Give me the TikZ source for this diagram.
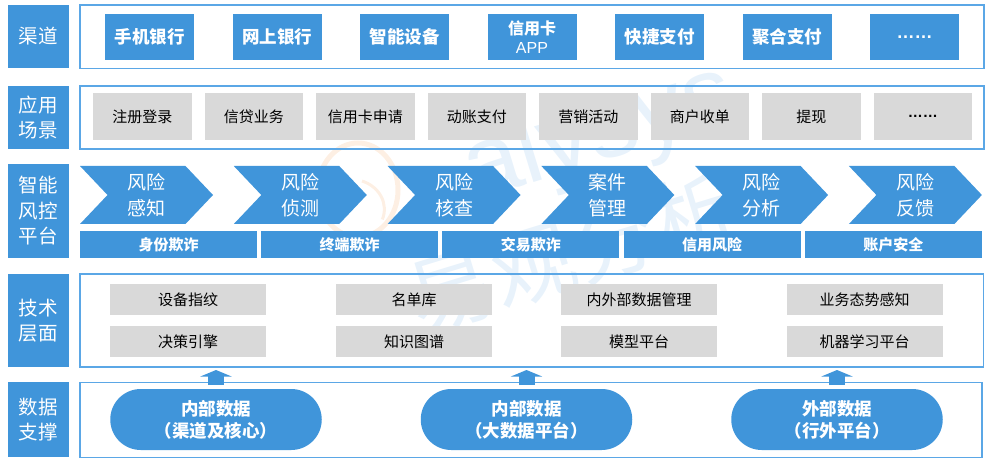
\documentclass[tikz,border=0pt]{standalone}
\usepackage{fontspec}
\usepackage{xcolor}
\usetikzlibrary{arrows.meta,positioning,shapes.symbols,shapes.misc}
\setmainfont{Noto Sans CJK SC}
\newfontfamily\latinfont{Liberation Sans}
\definecolor{mainblue}{HTML}{4095DA}
\definecolor{frameblue}{HTML}{5BA7E6}
\definecolor{cellgray}{HTML}{D9D9D9}
\definecolor{markblue}{HTML}{E8F2FB}
\definecolor{markorange}{HTML}{FDEFE3}

\begin{document}
\begin{tikzpicture}[x=1pt, y=-1pt,
  every node/.style={inner sep=0pt, outer sep=0pt, align=center},
  side/.style={fill=mainblue, text=white, minimum width=61pt, font=\fontsize{19.5}{25.5}\selectfont},
  frame/.style={draw=frameblue, line width=1.1pt},
  chan/.style={fill=mainblue, text=white, minimum width=89pt, minimum height=46pt, font=\fontsize{17.5}{19}\selectfont\bfseries},
  scene/.style={fill=cellgray, minimum width=98.5pt, minimum height=47pt, font=\fontsize{15}{18}\selectfont},
  stage/.style={signal, signal to=east, signal from=west, signal pointer angle=93, fill=mainblue, text=white, minimum width=133pt, minimum height=58pt, font=\fontsize{19}{26}\selectfont},
  risk/.style={fill=mainblue, text=white, minimum width=177pt, minimum height=27pt, font=\fontsize{15}{18}\selectfont\bfseries},
  tech/.style={fill=cellgray, minimum width=156pt, minimum height=31pt, font=\fontsize{15}{18}\selectfont},
  source/.style={rounded rectangle, fill=mainblue, text=white, minimum width=211.5pt, minimum height=61pt, font=\fontsize{17.5}{22}\selectfont\bfseries},
  uparr/.style={draw=mainblue, line width=16pt, -{Triangle[width=31pt,length=6.5pt]}, shorten <=4pt, shorten >=3pt}
]
\useasboundingbox (0,0) rectangle (988,462);

% watermark
\draw[markorange, line width=5pt] (358,190) ellipse (40 and 47);
\draw[markorange, line width=3pt] (362,181) arc (-70:20:34 and 30);
\node[rotate=17, text=markblue, font=\fontsize{100}{100}\selectfont\latinfont] (wmlatin) at (600,135) {alysys};
\node[rotate=17, text=markblue, font=\fontsize{85}{85}\selectfont] (wmcjk) at (573,252) {易观分析};

% left column
\node[side, minimum height=63pt, anchor=north west] (lchan) at (8,5) {渠道};
\node[side, minimum height=63pt, anchor=north west] (lscene) at (8,86) {应用\\场景};
\node[side, minimum height=94pt, anchor=north west] (lplat) at (8,164) {智能\\风控\\平台};
\node[side, minimum height=93pt, anchor=north west] (ltech) at (8,274) {技术\\层面};
\node[side, minimum height=75pt, anchor=north west] (ldata) at (8,382) {数据\\支撑};

% frames
\node[frame, minimum width=904pt, minimum height=63.5pt, anchor=north west] (fchan) at (80,5) {};
\node[frame, minimum width=904pt, minimum height=63pt, anchor=north west] (fscene) at (80,86) {};
\node[frame, minimum width=903.5pt, minimum height=93pt, anchor=north west] (ftech) at (80,274) {};
\node[frame, minimum width=902pt, minimum height=75pt, anchor=north west] (fdata) at (80,382.5) {};

% channels
\node[chan, anchor=north west] (c1) at (105,14) {手机银行};
\node[chan, right=38.5pt of c1] (c2) {网上银行};
\node[chan, right=38.5pt of c2] (c3) {智能设备};
\node[chan, right=38.5pt of c3, font=\fontsize{16}{19}\selectfont\bfseries] (c4) {信用卡\\{\latinfont\mdseries APP}};
\node[chan, right=38.5pt of c4] (c5) {快捷支付};
\node[chan, right=38.5pt of c5] (c6) {聚合支付};
\node[chan, right=38.5pt of c6, font=\fontsize{18}{19}\selectfont\latinfont\bfseries] (c7) {……};

% scenes
\node[scene, anchor=north west] (s1) at (93,93) {注册登录};
\node[scene, right=13pt of s1] (s2) {信贷业务};
\node[scene, right=13pt of s2] (s3) {信用卡申请};
\node[scene, right=13pt of s3] (s4) {动账支付};
\node[scene, right=13pt of s4] (s5) {营销活动};
\node[scene, right=13pt of s5] (s6) {商户收单};
\node[scene, right=13pt of s6] (s7) {提现};
\node[scene, right=13pt of s7, font=\fontsize{15}{18}\selectfont\latinfont\bfseries] (s8) {……};

% stages
\node[stage, anchor=center] (p1) at (146.5,195) {风险\\感知};
\node[stage, right=48.3pt of p1] (p2) {风险\\侦测};
\node[stage, right=48.3pt of p2] (p3) {风险\\核查};
\node[stage, right=48.3pt of p3] (p4) {案件\\管理};
\node[stage, right=48.3pt of p4] (p5) {风险\\分析};
\node[stage, right=48.3pt of p5] (p6) {风险\\反馈};

% risk bars
\node[risk, anchor=north west] (r1) at (80,231) {身份欺诈};
\node[risk, right=4.2pt of r1] (r2) {终端欺诈};
\node[risk, right=4.2pt of r2] (r3) {交易欺诈};
\node[risk, right=4.2pt of r3] (r4) {信用风险};
\node[risk, right=4.2pt of r4] (r5) {账户安全};

% tech
\node[tech, anchor=north west] (t1) at (110,284) {设备指纹};
\node[tech, below=11pt of t1] (t2) {决策引擎};
\node[tech, right=70pt of t1] (t3) {名单库};
\node[tech, below=11pt of t3] (t4) {知识图谱};
\node[tech, right=69pt of t3] (t5) {内外部数据管理};
\node[tech, below=11pt of t5] (t6) {模型平台};
\node[tech, right=69.5pt of t5] (t7) {业务态势感知};
\node[tech, below=11pt of t7] (t8) {机器学习平台};

% data
\node[source] (d1) at (216,419.5) {内部数据\\（渠道及核心）};
\node[source, right=99pt of d1] (d2) {内部数据\\（大数据平台）};
\node[source, right=99pt of d2] (d3) {外部数据\\（行外平台）};

\draw[uparr] (d1.north) -- (d1.north |- ftech.south);
\draw[uparr] (d2.north) -- (d2.north |- ftech.south);
\draw[uparr] (d3.north) -- (d3.north |- ftech.south);
\end{tikzpicture}
\end{document}
